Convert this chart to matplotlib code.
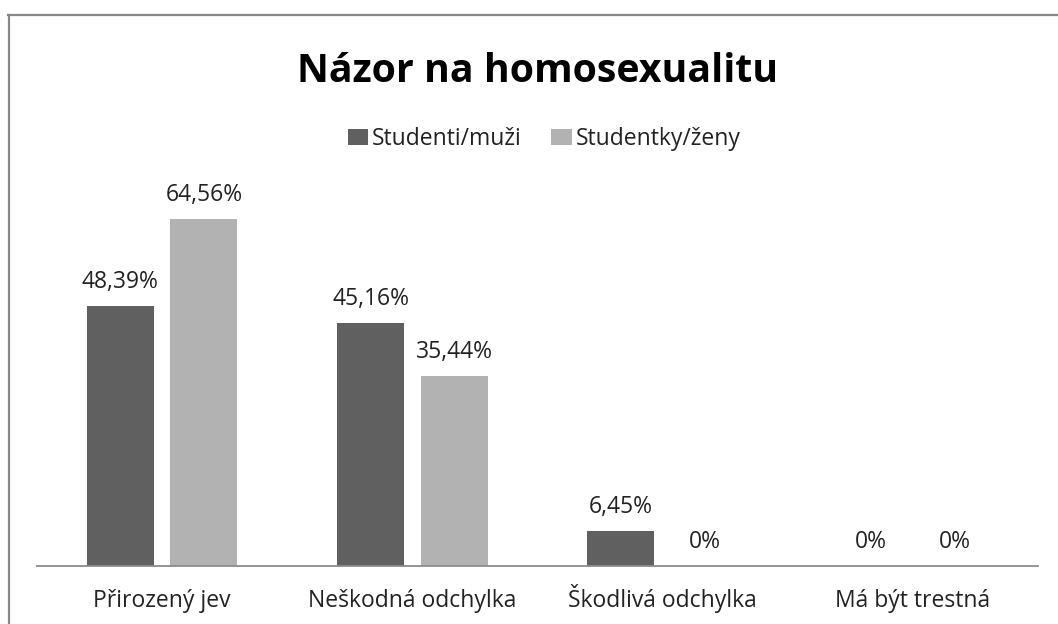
import matplotlib
matplotlib.use("Agg")
import matplotlib.pyplot as plt
import numpy as np

categories = ["Přirozený jev", "Neškodná odchylka", "Škodlivá odchylka", "Má být trestná"]
series_names = ["Studenti/muži", "Studentky/ženy"]
muzi = [48.39, 45.16, 6.45, 0]
zeny = [64.56, 35.44, 0, 0]
colors = ["#606060", "#b2b2b2"]

plt.rcParams['font.family'] = ['Open Sans', 'DejaVu Sans']

W, H = 1058, 624
fig = plt.figure(figsize=(W / 100, H / 100), dpi=100)

ax = fig.add_axes([37 / W, 58 / H, (1038 - 37) / W, (566 - 190) / H])
x = np.arange(len(categories))
bw = 67 / 250
off = 41.75 / 250
b1 = ax.bar(x - off, muzi, bw, color=colors[0], label=series_names[0])
b2 = ax.bar(x + off, zeny, bw, color=colors[1], label=series_names[1])

def fmt(v):
    if v == 0:
        return "0%"
    return f"{v:.2f}".replace(".", ",") + "%"

for bars, vals in ((b1, muzi), (b2, zeny)):
    for r, v in zip(bars, vals):
        ax.annotate(fmt(v), (r.get_x() + r.get_width() / 2, v), xytext=(0, 13),
                    textcoords="offset points", ha="center", va="baseline", fontsize=16.5, color="#222222")

ax.set_xlim(-0.5, len(categories) - 0.5)
ax.set_ylim(0, 70)
ax.set_xticks(x)
ax.set_xticklabels(categories, fontsize=16.5, color="#222222", va="baseline")
ax.tick_params(axis="x", length=0, pad=29.5)
ax.set_yticks([])
for s in ["left", "right", "top"]:
    ax.spines[s].set_visible(False)
ax.spines["bottom"].set_color("#8c8c8c")
ax.spines["bottom"].set_linewidth(1.3)

fig.text(538 / W, 1 - 82 / H, "Názor na homosexualitu", ha="center", va="baseline",
         fontsize=28.3, fontweight="bold", color="black")

leg = fig.legend(handles=[b1, b2], labels=series_names, loc="center", bbox_to_anchor=(544 / W, 1 - 139 / H),
                 ncol=2, frameon=False, fontsize=16.5, handlelength=0.9, handleheight=0.75,
                 handletextpad=0.15, columnspacing=1.3)
for t in leg.get_texts():
    t.set_color("#222222")

# outer frame (top and left edges visible)
fig.add_artist(plt.Line2D([8 / W, 1.0], [1 - 14.5 / H, 1 - 14.5 / H], transform=fig.transFigure,
                          color="#888888", linewidth=1.6))
fig.add_artist(plt.Line2D([8.5 / W, 8.5 / W], [0, 1 - 14.5 / H], transform=fig.transFigure,
                          color="#888888", linewidth=1.6))

fig.savefig("out.png", dpi=100)
